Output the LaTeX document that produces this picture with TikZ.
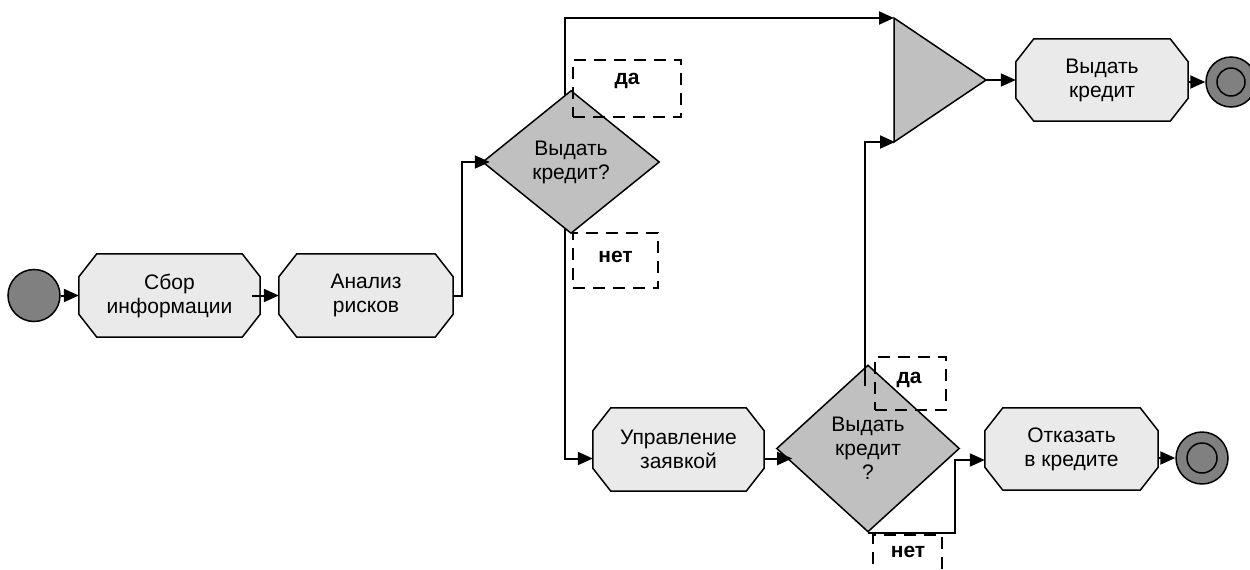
\documentclass[tikz,border=0pt]{standalone}
\usepackage{fontspec}
\setmainfont{Liberation Sans}
\usetikzlibrary{arrows.meta,shapes.geometric,calc}
\pgfdeclarelayer{bg}
\pgfsetlayers{bg,main}
\definecolor{octfill}{HTML}{EAEAEA}
\definecolor{decfill}{HTML}{C0C0C0}
\definecolor{evfill}{HTML}{808080}
\newcommand\dtxt{\fontsize{21}{24}\selectfont}
\newcommand\octoshape[1]{%
  \begin{pgfonlayer}{bg}
  \filldraw[octline] ($(#1.north west)+(18pt,0pt)$) -- ($(#1.north east)+(-18pt,0pt)$)
    -- ($(#1.north east)+(0pt,-23pt)$) -- ($(#1.south east)+(0pt,23pt)$)
    -- ($(#1.south east)+(-18pt,0pt)$) -- ($(#1.south west)+(18pt,0pt)$)
    -- ($(#1.south west)+(0pt,23pt)$) -- ($(#1.north west)+(0pt,-23pt)$) -- cycle;
  \end{pgfonlayer}}
\begin{document}
\begin{tikzpicture}[x=1pt,y=-1pt,
  conn/.style={line width=2pt,-{Triangle[length=15pt,width=13pt]}},
  octline/.style={line width=1.5pt,fill=octfill,draw=black},
  task/.style={rectangle,minimum height=83pt,inner sep=0pt,align=center,font=\dtxt},
  decision/.style={diamond,draw,line width=1.5pt,fill=decfill,inner sep=0pt,align=center,font=\dtxt},
  event/.style={circle,draw,line width=1.5pt,fill=evfill,inner sep=0pt,minimum size=#1},
  dbox/.style={draw,dash pattern=on 12pt off 8pt,line width=1.7pt,inner sep=0pt},
  lbl/.style={font=\bfseries\dtxt,inner sep=0pt}]
\useasboundingbox (0,0) rectangle (1250,570);
\clip (0,0) rectangle (1250,570);

% events
\node[event=52pt] (start) at (34,295.5) {};
\node[event=50pt] (end1) at (1231,82) {};
\draw[line width=1.5pt] (end1) circle (14pt);
\node[event=52pt] (end2) at (1202,458) {};
\draw[line width=1.5pt] (end2) circle (15pt);

% tasks
\node[task,minimum width=181pt] (sbor) at (169.5,295.5) {Сбор\\информации};
\octoshape{sbor}
\node[task,minimum width=174pt] (analiz) at (366,295.5) {Анализ\\рисков};
\octoshape{analiz}
\node[task,minimum width=172pt,minimum height=82pt] (vyd) at (1102,80) {Выдать\\кредит};
\octoshape{vyd}
\node[task,minimum width=171pt] (upr) at (678.5,449.5) {Управление\\заявкой};
\octoshape{upr}
\node[task,minimum width=173pt,minimum height=82pt] (otk) at (1071.5,449) {Отказать\\в кредите};
\octoshape{otk}

% decisions
\node[decision,minimum width=177pt,minimum height=143pt] (d1) at (571,162) {Выдать\\кредит?};
\node[decision,minimum width=183pt,minimum height=167pt] (d2) at (868,448.5) {Выдать\\кредит\\?};

% merge triangle
\coordinate (tA) at (894,18);
\coordinate (tB) at (894,142);
\coordinate (tC) at (986,80);
\filldraw[line width=1.5pt,fill=decfill] (tA) -- (tC) -- (tB) -- cycle;

% connectors
\draw[conn] (start.east) -- (sbor.west);
\draw[conn] ($(sbor.east)+(-8pt,0pt)$) -- (analiz.west);
\draw[conn] (analiz.east) -- ++(9pt,0pt) |- ($(d1.west)+(8pt,0pt)$);
\draw[conn] ($(d1.north)+(-6pt,-4.85pt)$) |- (tA);
\draw[conn] ($(d1.south)+(-6pt,4.85pt)$) |- ($(upr.west)+(0pt,-9pt)$);
\draw[conn] (tC) -- (vyd.west);
\draw[conn] (vyd.east |- end1.west) -- (end1.west);
\draw[conn] ($(upr.east)+(0pt,-9pt)$) -- ++(28pt,0pt);
\draw[conn] ($(d2.north)+(-3pt,-22pt)$) |- ($(tB)+(1pt,0pt)$);
\draw[conn] (d2.south) -- ++(87pt,0pt) |- ($(otk.west)+(0pt,-11pt)$);
\draw[conn] (otk.east |- end2.west) -- (end2.west);

% dashed labels
\node[dbox,minimum width=108pt,minimum height=57pt] (yes1) at (627,88.5) {};
\node[lbl] (yes1t) at (627,81) {да};
\node[dbox,minimum width=85pt,minimum height=55pt] (no1) at (615.5,260.5) {};
\node[lbl] (no1t) at (615.5,257) {нет};
\node[dbox,minimum width=71pt,minimum height=53pt] (yes2) at (910.5,383.5) {};
\node[lbl] (yes2t) at (909,380) {да};
\node[dbox,minimum width=69pt,minimum height=65pt] (no2) at (907.5,567.5) {};
\node[lbl] (no2t) at (908,552) {нет};
\end{tikzpicture}
\end{document}
